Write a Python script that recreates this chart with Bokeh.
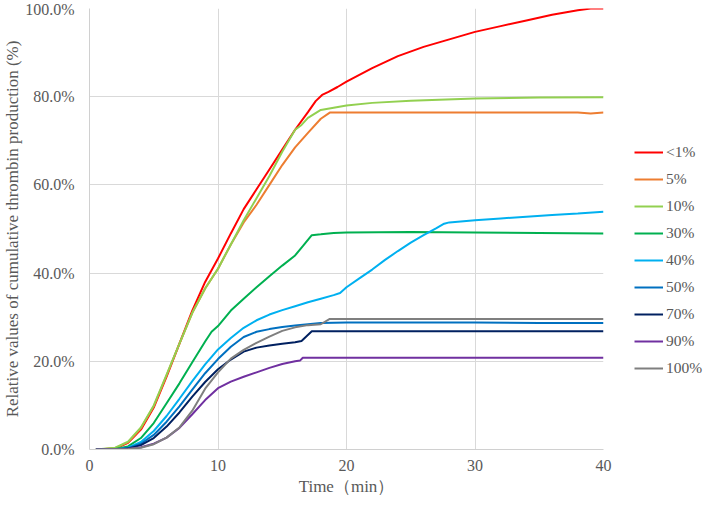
from bokeh.plotting import figure
from bokeh.models import Range1d, FixedTicker, PrintfTickFormatter, Legend, LegendItem
from bokeh.embed import file_html
from bokeh.resources import INLINE

series_names = ["<1%", "5%", "10%", "30%", "40%", "50%", "70%", "90%", "100%"]
series_colors = ["#FF0000", "#ED7D31", "#92D050", "#00B050", "#00B0F0",
                 "#0070C0", "#002060", "#7030A0", "#7F7F7F"]

t_lt1 = [0.5, 2, 3, 4, 5, 6, 7, 8, 9, 10, 11, 12, 13, 14, 15, 16, 17, 17.6, 18.1, 18.6,
         19.3, 20, 22, 24, 26, 28, 30, 32, 34, 36, 38, 39, 40]
v_lt1 = [0, 0.2, 1.5, 4.5, 9.5, 16.5, 24, 31.5, 38, 43.3, 49, 54.5, 59, 63.5, 68, 72.5,
         76.5, 79, 80.4, 81.1, 82.2, 83.4, 86.5, 89.2, 91.3, 93, 94.7, 96, 97.3, 98.6,
         99.6, 100, 100]

t_5 = [0.5, 2, 3, 4, 5, 6, 7, 8, 9, 10, 11, 12, 13, 14, 15, 16, 17, 18, 18.7, 20, 25,
       30, 35, 38, 39, 40]
v_5 = [0, 0.3, 1.6, 4.8, 9.8, 16.8, 24, 31, 36.5, 41, 46.5, 51.5, 55.5, 60, 64.5, 68.5,
       71.8, 75, 76.4, 76.4, 76.4, 76.4, 76.4, 76.4, 76.2, 76.4]

t_10 = [0.5, 2, 3, 4, 5, 6, 7, 8, 9, 10, 11, 12, 13, 14, 15, 16, 16.5, 17, 18, 19, 20,
        22, 25, 30, 35, 40]
v_10 = [0, 0.4, 1.8, 5, 10, 17, 24, 31, 36.5, 41, 46.5, 52, 57, 62, 67.5, 72.5, 73.6,
        75.2, 77, 77.5, 78, 78.6, 79.1, 79.6, 79.8, 79.9]

t_30 = [0.5, 2, 3, 4, 5, 6, 7, 8, 9, 9.5, 10, 11, 12, 13, 14, 15, 16, 16.6, 17.3, 18,
        19, 20, 25, 30, 35, 40]
v_30 = [0, 0.1, 0.7, 2.6, 6, 10.5, 15, 19.8, 24.5, 26.7, 28, 31.5, 34.2, 36.8, 39.3,
        41.7, 44, 46.1, 48.6, 48.8, 49.1, 49.2, 49.3, 49.2, 49.1, 49.0]

t_40 = [0.5, 2, 3, 4, 5, 6, 7, 8, 9, 10, 11, 12, 13, 14, 15, 16, 17, 18, 19, 19.5, 20,
        21, 22, 23, 24, 25, 26, 27, 27.6, 28, 30, 32, 34, 36, 38, 40]
v_40 = [0, 0, 0.4, 1.7, 4.2, 7.6, 11.5, 15.5, 19.3, 22.7, 25.3, 27.6, 29.3, 30.6, 31.6,
        32.5, 33.4, 34.2, 35, 35.5, 36.8, 38.8, 40.8, 43, 45, 46.9, 48.6, 50.2, 51.2,
        51.5, 52, 52.4, 52.8, 53.2, 53.5, 53.9]

t_50 = [0.5, 2, 3, 4, 5, 6, 7, 8, 9, 10, 11, 12, 13, 14, 15, 16, 17, 18, 20, 25, 30,
        35, 40]
v_50 = [0, 0, 0.3, 1.3, 3.3, 6.3, 9.8, 13.6, 17.3, 20.5, 23.3, 25.5, 26.7, 27.3, 27.8,
        28.1, 28.4, 28.7, 28.8, 28.8, 28.8, 28.7, 28.7]

t_70 = [0.5, 2, 3, 4, 5, 6, 7, 8, 9, 10, 11, 12, 13, 14, 15, 16, 16.5, 17.3, 20, 25,
        30, 35, 40]
v_70 = [0, 0, 0.2, 1, 2.6, 5.2, 8.4, 12, 15.3, 18.2, 20.4, 22.2, 23.1, 23.6, 24, 24.3,
        24.6, 26.8, 26.8, 26.8, 26.8, 26.8, 26.8]

t_90 = [0.5, 3, 4, 5, 6, 7, 8, 9, 10, 11, 12, 13, 14, 15, 16, 16.4, 16.6, 20, 25, 30,
        35, 40]
v_90 = [0, 0.1, 0.5, 1.3, 2.7, 4.9, 8, 11.2, 13.9, 15.4, 16.5, 17.5, 18.5, 19.4, 20,
        20.2, 20.8, 20.8, 20.8, 20.8, 20.8, 20.8]

t_100 = [0.5, 3, 4, 5, 6, 7, 8, 9, 10, 11, 12, 13, 14, 15, 16, 17, 18, 18.7, 20, 25,
         30, 35, 40]
v_100 = [0, 0.1, 0.4, 1.2, 2.7, 5, 8.8, 13.8, 17.5, 20.6, 22.6, 24.2, 25.6, 26.9, 27.7,
         28.2, 28.4, 29.6, 29.6, 29.6, 29.6, 29.6, 29.6]

x_ticks = [0, 10, 20, 30, 40]
y_ticks = [0, 20, 40, 60, 80, 100]

series_t = [t_lt1, t_5, t_10, t_30, t_40, t_50, t_70, t_90, t_100]
series_v = [v_lt1, v_5, v_10, v_30, v_40, v_50, v_70, v_90, v_100]

FONT = "Liberation Serif"
TXT = "#595959"
GRID = "#D9D9D9"

p = figure(frame_width=514, frame_height=441, output_backend="svg", toolbar_location=None,
           x_range=Range1d(0, 40), y_range=Range1d(0, 100),
           min_border_top=8, min_border_left=0, min_border_right=0,
           min_border_bottom=0)
p.outline_line_color = None
p.background_fill_color = "white"

items = []
for name, col, tt, vv in zip(series_names, series_colors, series_t, series_v):
    r = p.line(tt, vv, line_color=col, line_width=2)
    items.append(LegendItem(label=name, renderers=[r]))

for ax in (p.xaxis[0], p.yaxis[0]):
    ax.axis_line_color = "#D0D0D0"
    ax.major_tick_line_color = None
    ax.minor_tick_line_color = None
    ax.major_label_text_font = FONT
    ax.major_label_text_color = TXT
    ax.major_label_text_font_size = "16px"
    ax.axis_label_text_font = FONT
    ax.axis_label_text_color = TXT
    ax.axis_label_text_font_size = "17px"
    ax.axis_label_text_font_style = "normal"

p.xaxis.ticker = FixedTicker(ticks=x_ticks)
p.yaxis.ticker = FixedTicker(ticks=y_ticks)
p.yaxis.formatter = PrintfTickFormatter(format="%.1f%%")
p.xaxis.major_label_standoff = 4
p.yaxis.major_label_standoff = 9
p.xaxis.axis_label = "Time（min）"
p.yaxis.axis_label = "Relative values of cumulative thrombin production (%)"
p.xaxis.axis_label_standoff = 3
p.yaxis.axis_label_standoff = 0

p.xgrid.ticker = FixedTicker(ticks=x_ticks)
p.ygrid.ticker = FixedTicker(ticks=y_ticks)
p.xgrid.grid_line_color = GRID
p.ygrid.grid_line_color = GRID

legend = Legend(items=items, location=(31, 71), orientation="vertical")
legend.border_line_color = None
legend.background_fill_alpha = 0
legend.padding = 0
legend.margin = 0
legend.spacing = 7
legend.glyph_width = 29
legend.glyph_height = 20
legend.label_height = 20
legend.label_standoff = 3
legend.label_text_font = FONT
legend.label_text_font_size = "15.5px"
legend.label_text_color = TXT
p.add_layout(legend, "right")

open("out.html", "w").write(file_html(p, INLINE))
